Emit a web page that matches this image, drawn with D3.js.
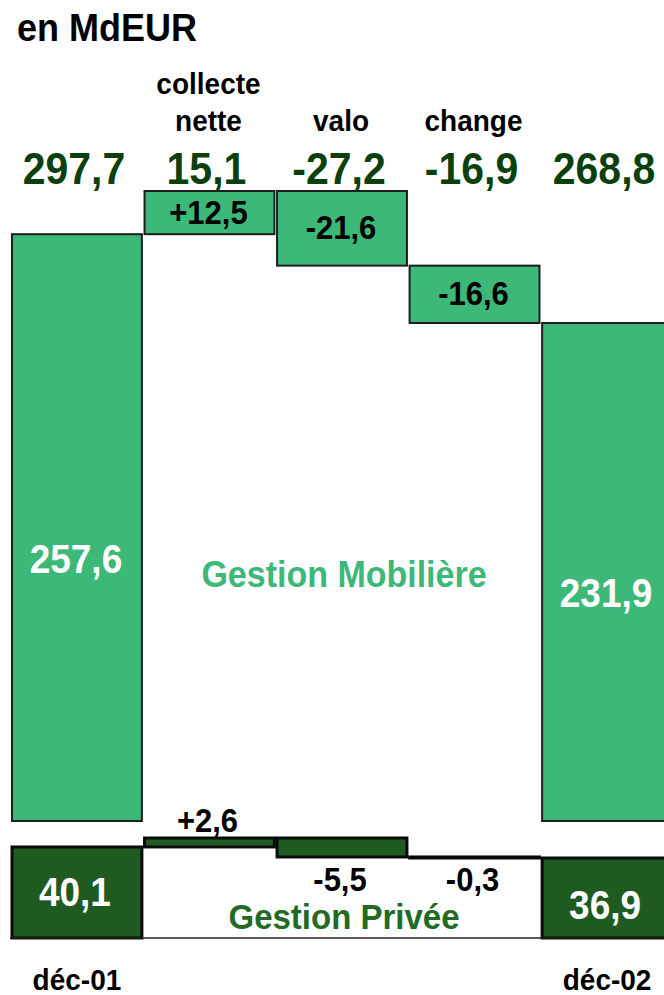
<!DOCTYPE html>
<html>
<head>
<meta charset="utf-8">
<script src="https://cdn.jsdelivr.net/npm/d3@7"></script>
<style>
  body { margin: 0; background: #fff; }
  svg text { font-family: "Liberation Sans", Arial, sans-serif; font-weight: bold; }
</style>
</head>
<body>
<div id="chart"></div>
<script>
// colonnes du waterfall
const categories = ["déc-01", "collecte nette", "valo", "change", "déc-02"];
const headLabels = [[], ["collecte", "nette"], ["valo"], ["change"], []];
const footLabels = ["déc-01", "", "", "", "déc-02"];
const barKinds = ["total", "delta", "delta", "delta", "total"];

// totaux (ligne du haut)
const totalValues = [297.7, 15.1, -27.2, -16.9, 268.8];
// Gestion Mobilière
const mobiliereValues = [257.6, 12.5, -21.6, -16.6, 231.9];
// Gestion Privée
const priveeValues = [40.1, 2.6, -5.5, -0.3, 36.9];

const W = 664, H = 995;
const lightGreen = "#3cb878", darkGreen = "#1f5b20", numGreen = "#0b3f0b";
const stretch = 1.08; // police un peu plus haute que large, comme l'original

const fr = d3.formatLocale({decimal: ",", thousands: " ", grouping: [3], currency: ["", "€"], minus: "-"});
const fmt = fr.format(".1f"), fmtSigned = fr.format("+.1f");

// calcule début / fin de chaque barre
function waterfall(values) {
    let running = 0;
    return values.map((v, i) => {
        if (barKinds[i] === "total") {
            running = v;
            return {i, value: v, start: null, end: v, kind: "total"};
        }
        const start = running;
        running += v;
        return {i, value: v, start, end: running, kind: "delta"};
    });
}

const svg = d3.select("#chart").append("svg")
    .attr("width", W).attr("height", H)
    .attr("viewBox", [0, 0, W, H]);

const x = d3.scaleBand().domain(categories).range([12, 672]).paddingInner(0.02);

// échelles tronquées (la base des totaux est coupée)
const upBottom = 821, lowBottom = 938;
const yUp = d3.scaleLinear().domain([231.9, 270.1]).range([323, 191]);
const yLow = d3.scaleLinear().domain([36.9, 42.7]).range([858, 838]);

function drawSegment(data, y, base, fill, stroke, sw, cls) {
    svg.selectAll("rect." + cls)
        .data(data)
        .join("rect")
        .attr("class", cls)
        .attr("x", d => x(categories[d.i]))
        .attr("width", x.bandwidth())
        .attr("y", d => d.kind === "total" ? y(d.end) : y(Math.max(d.start, d.end)))
        .attr("height", d => d.kind === "total" ? base - y(d.end) : Math.abs(y(d.start) - y(d.end)))
        .attr("fill", fill)
        .attr("stroke", stroke)
        .attr("stroke-width", sw);
}

const mob = waterfall(mobiliereValues);
const pri = waterfall(priveeValues);

drawSegment(mob, yUp, upBottom, lightGreen, "#1e1e1e", 2, "mob");
drawSegment(pri, yLow, lowBottom, darkGreen, "#0a0a0a", 3, "pri");

// ligne de base
svg.append("line")
    .attr("x1", 10).attr("x2", W)
    .attr("y1", lowBottom).attr("y2", lowBottom)
    .attr("stroke", "#222").attr("stroke-width", 1.5);

const cx = i => x(categories[i]) + x.bandwidth() / 2;
const place = (px, py) => `translate(${px},${py}) scale(1,${stretch})`;

// titre
svg.append("text").attr("transform", place(17, 41))
    .attr("font-size", 36).attr("fill", "#000").text("en MdEUR");

// intitulés des colonnes
headLabels.forEach((lines, i) => {
    lines.forEach((t, j) => {
        svg.append("text")
            .attr("transform", place(cx(i) - 1, 131 - (lines.length - 1 - j) * 37))
            .attr("text-anchor", "middle")
            .attr("font-size", 28)
            .text(t);
    });
});

// totaux en haut
svg.selectAll("text.total")
    .data(totalValues)
    .join("text")
    .attr("class", "total")
    .attr("transform", (d, i) => place(cx(i) - 3, 184))
    .attr("text-anchor", "middle")
    .attr("font-size", 41)
    .attr("fill", numGreen)
    .text(d => fmt(d));

// étiquettes Gestion Mobilière
const mobLabelY = [573, null, null, null, 607];
svg.selectAll("text.moblab")
    .data(mob)
    .join("text")
    .attr("class", "moblab")
    .attr("transform", d => place(cx(d.i) - 1,
        d.kind === "total" ? mobLabelY[d.i] : (yUp(d.start) + yUp(d.end)) / 2 + 11))
    .attr("text-anchor", "middle")
    .attr("font-size", d => d.kind === "total" ? 37 : 31)
    .attr("fill", d => d.kind === "total" ? "#fff" : "#000")
    .text(d => d.kind === "total" ? fmt(d.value) : (d.value > 0 ? fmtSigned(d.value) : fmt(d.value)));

// étiquettes Gestion Privée
const priLabelY = [906, null, null, null, 919];
svg.selectAll("text.prilab")
    .data(pri)
    .join("text")
    .attr("class", "prilab")
    .attr("transform", d => {
        let py;
        if (d.kind === "total") py = priLabelY[d.i];
        else py = d.value > 0 ? yLow(d.end) - 6 : 891;
        return place(cx(d.i) - 2, py);
    })
    .attr("text-anchor", "middle")
    .attr("font-size", d => d.kind === "total" ? 37 : 31)
    .attr("fill", d => d.kind === "total" ? "#fff" : "#000")
    .text(d => d.kind === "total" ? fmt(d.value) : (d.value > 0 ? fmtSigned(d.value) : fmt(d.value)));

// noms des segments
svg.append("text").attr("transform", place(cx(2) + 2, 587))
    .attr("text-anchor", "middle").attr("font-size", 34)
    .attr("fill", lightGreen).text("Gestion Mobilière");
svg.append("text").attr("transform", place(cx(2) + 2, 929))
    .attr("text-anchor", "middle").attr("font-size", 33)
    .attr("fill", "#236a25").text("Gestion Privée");

// dates en bas
footLabels.forEach((t, i) => {
    if (!t) return;
    svg.append("text")
        .attr("transform", place(cx(i), 990))
        .attr("text-anchor", "middle")
        .attr("font-size", 28)
        .text(t);
});
</script>
</body>
</html>
